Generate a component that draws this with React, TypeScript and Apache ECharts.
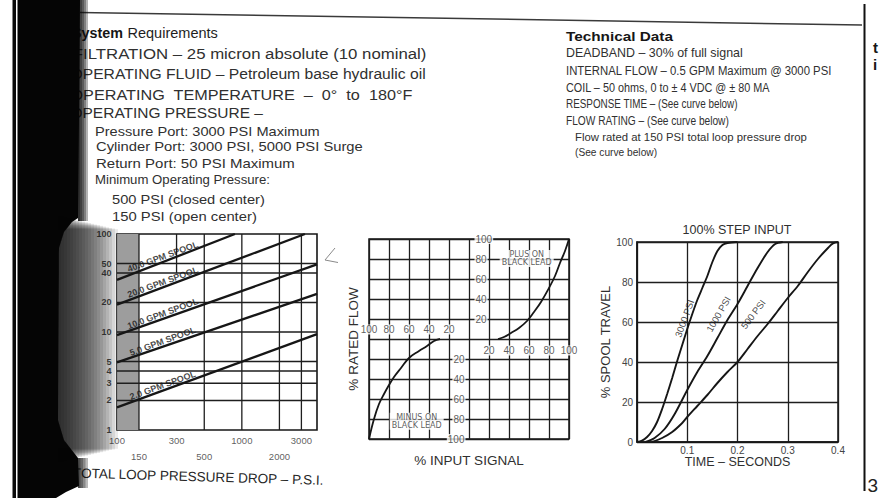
import React, { useEffect, useRef } from 'react';
import * as echarts from 'echarts';

const W = 882;
const H = 498;
const SANS = '"Liberation Sans", Arial, Helvetica, sans-serif';
const WIDE = '"DejaVu Sans", Verdana, sans-serif';
const INK = '#161616';
const TEXT = '#303030';
const RULE = '#1e1e1e';

// ---- Flow vs. total loop pressure drop (log-log); each spool is a straight line ----
const spoolNames = ['40.0 GPM SPOOL', '20.0 GPM SPOOL', '10.0 GPM SPOOL', '5.0 GPM SPOOL', '2.0 GPM SPOOL'];
const spool40 = [[100, 34], [880, 100]];
const spool20 = [[100, 19], [3200, 100]];
const spool10 = [[100, 9.3], [4000, 49]];
const spool5 = [[100, 4.9], [4000, 24.5]];
const spool2 = [[100, 1.7], [4000, 9.5]];
const pressureRange = [100, 4000];
const flowRange = [1, 100];
const pressureLabelsUpper = [100, 300, 1000, 3000];
const pressureLabelsLower = [150, 500, 2000];
const pressureGridLines = [150, 500, 1000, 2000, 3000];
const shortGridLine = [[300, 40], [300, 100]];
const flowLabels = [100, 50, 40, 20, 10, 5, 4, 3, 2, 1];
const flowGridLines = [2, 3, 4, 5, 10, 20, 40, 50];
const shadedBand = [100, 150];

// ---- % rated flow vs. % input signal ----
const plusOnBlack = [[29, 0], [35, 2], [42, 6], [50, 11], [58, 18], [65, 27], [72, 37], [80, 51], [86, 63], [91, 76], [96, 88], [100, 100]];
const minusOnBlack = [[-29, 0], [-35, -2], [-42, -7], [-50, -12], [-60, -19], [-68, -29], [-75, -38], [-80, -46], [-85, -55], [-90, -65], [-95, -80], [-100, -100]];
const signalLabels = [20, 40, 60, 80, 100];

// ---- 100% step input: spool travel vs. time ----
const travel3000 = [[0, 0], [0.01, 0.7], [0.02, 2.5], [0.03, 5.5], [0.04, 10], [0.05, 16.5], [0.06, 24], [0.07, 32], [0.08, 40.5], [0.09, 48.5], [0.1, 56.5], [0.11, 64], [0.12, 71], [0.13, 77], [0.14, 83], [0.15, 90], [0.16, 95.5], [0.17, 98.5], [0.18, 99.5], [0.2, 100]];
const travel1000 = [[0.017, 0], [0.035, 2], [0.055, 6.5], [0.075, 14], [0.1, 26], [0.12, 35], [0.14, 43], [0.16, 52], [0.18, 61], [0.2, 69], [0.22, 78], [0.24, 87], [0.26, 95], [0.275, 99], [0.29, 100]];
const travel500 = [[0.03, 0], [0.05, 2], [0.07, 5], [0.09, 9.5], [0.1, 12.5], [0.12, 18], [0.14, 23.5], [0.16, 29.5], [0.18, 35], [0.2, 40], [0.22, 46.5], [0.24, 53], [0.26, 59], [0.28, 65.5], [0.3, 72], [0.32, 78], [0.34, 85], [0.36, 91.5], [0.38, 97], [0.39, 99.3], [0.4, 100]];
const travelNames = ['3000 PSI', '1000 PSI', '500 PSI'];

function logInterp(pts: number[][], x: number) {
  const [x0, y0] = pts[0];
  const [x1, y1] = pts[1];
  const t = (Math.log(x) - Math.log(x0)) / (Math.log(x1) - Math.log(x0));
  return Math.exp(Math.log(y0) + t * (Math.log(y1) - Math.log(y0)));
}

let measureCtx: CanvasRenderingContext2D | null = null;
function measure(text: string, size: number, weight: string) {
  if (!measureCtx) measureCtx = document.createElement('canvas').getContext('2d');
  if (!measureCtx) return 0;
  measureCtx.font = `${weight} ${size}px "Liberation Sans"`;
  return measureCtx.measureText(text).width;
}

// text stretched or squeezed to the set width
function fitted(text: string, x: number, y: number, size: number, width: number, weight = 'normal', fill = TEXT, rotation = 0) {
  const w = measure(text, size, weight);
  return {
    type: 'text', x, y, rotation, scaleX: w > 0 ? width / w : 1, z: 10, silent: true,
    style: { text, fontSize: size, fontWeight: weight, fontFamily: SANS, fill, align: 'left', verticalAlign: 'middle' },
  };
}

// soft edge of the binding shadow: stacked translucent layers, all starting at x0,
// each reaching a little further right and a little less far up and down
function softEdge(x0: number, x1: number, yTop: number, yBot: number, alpha: number, steps: number, taper: number) {
  const out: any[] = [];
  const w = (x1 - x0) / steps;
  for (let i = 0; i < steps; i++) {
    out.push({
      type: 'rect', z: 50, silent: true,
      shape: { x: x0, y: yTop + taper * i, width: w * (i + 1), height: yBot - yTop - 2 * taper * i },
      style: { fill: `rgba(8,8,8,${alpha})` },
    });
  }
  return out;
}

function buildGraphic() {
  const body = [
    fitted('System', 72, 33, 14, 51, 'bold', INK),
    fitted('Requirements', 127.5, 33.5, 14, 90.5, 'normal', '#1e1e1e'),
    fitted('FILTRATION \u2013 25 micron absolute (10 nominal)', 72.8, 53.5, 14.5, 354),
    fitted('OPERATING FLUID \u2013 Petroleum base hydraulic oil', 70.5, 74, 14.5, 355.5),
    fitted('OPERATING\u00a0 TEMPERATURE\u00a0 \u2013\u00a0 0\u00b0\u00a0 to\u00a0 180\u00b0F', 70.5, 95, 14.5, 342.5),
    fitted('OPERATING PRESSURE \u2013', 70.5, 113, 14.5, 192.5),
    fitted('Pressure Port: 3000 PSI Maximum', 95, 131, 13, 225),
    fitted('Cylinder Port: 3000 PSI, 5000 PSI Surge', 96, 146.5, 13, 267),
    fitted('Return Port: 50 PSI Maximum', 96, 163, 13, 199),
    fitted('Minimum Operating Pressure:', 95, 180, 13, 175),
    fitted('500 PSI (closed center)', 112, 199, 13, 153),
    fitted('150 PSI (open center)', 112, 216.5, 13, 145),

    fitted('Technical Data', 566, 36.7, 13, 107, 'bold', INK),
    fitted('DEADBAND \u2013 30% of full signal', 566, 53.3, 12.5, 177),
    fitted('INTERNAL FLOW \u2013 0.5 GPM Maximum @ 3000 PSI', 566, 70.7, 12.5, 266),
    fitted('COIL \u2013 50 ohms, 0 to \u00b1 4 VDC @ \u00b1 80 MA', 566, 87.3, 12.5, 204),
    fitted('RESPONSE TIME \u2013 (See curve below)', 566, 104, 12.5, 172),
    fitted('FLOW RATING \u2013 (See curve below)', 566, 120.7, 12.5, 163),
    fitted('Flow rated at 150 PSI total loop pressure drop', 575, 136.7, 11.8, 232),
    fitted('(See curve below)', 575, 151.7, 11.8, 82),

    fitted('TOTAL LOOP PRESSURE DROP \u2013 P.S.I.', 73, 473, 13.5, 252, 'normal', '#262626', -0.03),
    {
      type: 'text', x: 737, y: 230, z: 10, silent: true,
      style: { text: '100% STEP INPUT', fontSize: 12.5, fontFamily: SANS, fill: TEXT, align: 'center', verticalAlign: 'middle' },
    },
    { type: 'text', x: 873, y: 47, z: 10, silent: true, style: { text: 't', fontSize: 15, fontWeight: 'bold', fontFamily: SANS, fill: INK, verticalAlign: 'middle' } },
    { type: 'text', x: 873, y: 64, z: 10, silent: true, style: { text: 'i', fontSize: 15, fontWeight: 'bold', fontFamily: SANS, fill: INK, verticalAlign: 'middle' } },
    { type: 'text', x: 867.5, y: 485, z: 10, silent: true, style: { text: '3', fontSize: 19, fontFamily: SANS, fill: '#222', verticalAlign: 'middle' } },
  ];

  const rules = [
    { type: 'line', z: 9, silent: true, shape: { x1: 80, y1: 12.5, x2: 862, y2: 25 }, style: { stroke: '#3a3a3a', lineWidth: 1.5 } },
    { type: 'line', z: 9, silent: true, shape: { x1: 864.5, y1: 4, x2: 864.5, y2: 491 }, style: { stroke: '#111', lineWidth: 2 } },
    { type: 'polyline', z: 9, silent: true, shape: { points: [[335, 248], [325, 260], [338, 262.5]] }, style: { stroke: '#8a8a8a', lineWidth: 1, fill: 'none' } },
  ];

  // dark binding shadow along the left edge of the page
  const shadow = [
    { type: 'rect', z: 50, silent: true, shape: { x: 12.5, y: 0, width: 3.5, height: H }, style: { fill: '#0b0b0b' } },
    {
      type: 'polygon', z: 50, silent: true,
      shape: { points: [[17.5, 0], [80, 0], [79, 120], [78, 218], [72, 222], [64, 232], [59, 248], [58, 420], [64, 440], [78, 458], [79, 486], [66, 492], [56, H], [17.5, H]] },
      style: { fill: '#050505' },
    },
    ...softEdge(78, 88, 0, 221, 0.3, 5, 0),
    ...softEdge(58, 118, 216, 462, 0.085, 20, 0.7),
    ...softEdge(78, 88, 458, 488, 0.28, 4, 0),
  ];

  return [...body, ...rules, ...shadow];
}

const hidden = { symbolSize: 1, itemStyle: { color: 'transparent' }, silent: true };

function buildOption() {
  const spoolData = [spool40, spool20, spool10, spool5, spool2];
  const spoolLabelAt = 240;
  const travelData = [travel3000, travel1000, travel500];
  const travelLabelAnchors = [[0.0944, 61.8, 70], [0.162, 63.9, 60], [0.231, 63.9, 53]];

  const tickLabel = { fontSize: 10, color: '#333', fontFamily: SANS, backgroundColor: '#fff', padding: [0, 1] };

  const series: any[] = [
    // shaded 100-150 PSI band
    {
      type: 'line', xAxisIndex: 0, yAxisIndex: 0, silent: true, symbol: 'none', z: 1,
      data: [[shadedBand[0], flowRange[1]], [shadedBand[1], flowRange[1]]],
      lineStyle: { width: 0 },
      areaStyle: { origin: 'start', opacity: 1, color: '#9d9d9d' },
    },
    ...flowGridLines.map((v) => ({
      type: 'line', xAxisIndex: 0, yAxisIndex: 0, silent: true, symbol: 'none', z: 2,
      data: [[pressureRange[0], v], [pressureRange[1], v]],
      lineStyle: { color: RULE, width: 1.3 },
    })),
    ...pressureGridLines.map((p) => ({
      type: 'line', xAxisIndex: 0, yAxisIndex: 0, silent: true, symbol: 'none', z: 2,
      data: [[p, flowRange[0]], [p, flowRange[1]]],
      lineStyle: { color: RULE, width: 1.3 },
    })),
    {
      type: 'line', xAxisIndex: 0, yAxisIndex: 0, silent: true, symbol: 'none', z: 2,
      data: shortGridLine, lineStyle: { color: RULE, width: 1.3 },
    },
    ...spoolData.map((pts, i) => ({
      name: spoolNames[i], type: 'line', xAxisIndex: 0, yAxisIndex: 0, symbol: 'none', z: 4,
      data: pts, lineStyle: { color: INK, width: 2.3 },
    })),
    ...spoolData.map((pts, i) => ({
      type: 'scatter', xAxisIndex: 0, yAxisIndex: 0, z: 6, ...hidden,
      data: [[spoolLabelAt, logInterp(pts, spoolLabelAt)]],
      label: { show: true, position: 'inside', rotate: 20, offset: [0, -5], formatter: spoolNames[i], fontSize: 9, fontWeight: 'bold', color: INK, fontFamily: SANS },
    })),
    {
      type: 'scatter', xAxisIndex: 0, yAxisIndex: 0, z: 6, ...hidden,
      data: flowLabels.map((v) => [pressureRange[0], v]),
      label: { show: true, position: 'left', distance: 5, fontSize: 9, fontWeight: 'bold', color: INK, fontFamily: SANS, formatter: (p: any) => String(p.value[1]) },
    },
    {
      type: 'scatter', xAxisIndex: 0, yAxisIndex: 0, z: 6, ...hidden,
      data: pressureLabelsUpper.map((p) => [p, flowRange[0]]),
      label: { show: true, position: 'bottom', distance: 5, fontSize: 9.5, color: '#333', fontFamily: SANS, formatter: (p: any) => String(p.value[0]) },
    },
    {
      type: 'scatter', xAxisIndex: 0, yAxisIndex: 0, z: 6, ...hidden,
      data: pressureLabelsLower.map((p) => [p, flowRange[0]]),
      label: { show: true, position: 'bottom', distance: 21, fontSize: 9.5, color: '#333', fontFamily: SANS, formatter: (p: any) => String(p.value[0]) },
    },

    // four-quadrant flow gain chart
    {
      name: 'PLUS ON BLACK LEAD', type: 'line', xAxisIndex: 1, yAxisIndex: 1, symbol: 'none', smooth: 0.4, z: 4,
      data: plusOnBlack, lineStyle: { color: INK, width: 1.8 },
    },
    {
      name: 'MINUS ON BLACK LEAD', type: 'line', xAxisIndex: 1, yAxisIndex: 1, symbol: 'none', smooth: 0.4, z: 4,
      data: minusOnBlack, lineStyle: { color: INK, width: 1.8 },
    },
    {
      type: 'scatter', xAxisIndex: 1, yAxisIndex: 1, z: 6, ...hidden,
      data: signalLabels.map((v) => [-v, 0]),
      label: { show: true, position: 'top', distance: 4, ...tickLabel, formatter: (p: any) => String(-p.value[0]) },
    },
    {
      type: 'scatter', xAxisIndex: 1, yAxisIndex: 1, z: 6, ...hidden,
      data: signalLabels.map((v) => [v, 0]),
      label: { show: true, position: 'bottom', distance: 6, ...tickLabel, formatter: (p: any) => String(p.value[0]) },
    },
    {
      type: 'scatter', xAxisIndex: 1, yAxisIndex: 1, z: 6, ...hidden,
      data: signalLabels.map((v) => [0, v]),
      label: { show: true, position: 'right', distance: 5, ...tickLabel, formatter: (p: any) => String(p.value[1]) },
    },
    {
      type: 'scatter', xAxisIndex: 1, yAxisIndex: 1, z: 6, ...hidden,
      data: signalLabels.map((v) => [0, -v]),
      label: { show: true, position: 'left', distance: 3, ...tickLabel, formatter: (p: any) => String(-p.value[1]) },
    },
    {
      type: 'scatter', xAxisIndex: 1, yAxisIndex: 1, z: 6, ...hidden,
      data: [[57.7, 80.6]],
      label: { show: true, position: 'inside', formatter: 'PLUS ON\nBLACK LEAD', fontSize: 8, lineHeight: 7.5, color: '#333', fontFamily: WIDE, backgroundColor: '#fff', padding: [1, 2] },
    },
    {
      type: 'scatter', xAxisIndex: 1, yAxisIndex: 1, z: 6, ...hidden,
      data: [[-52.3, -82.3]],
      label: { show: true, position: 'inside', formatter: 'MINUS ON\nBLACK LEAD', fontSize: 8, lineHeight: 7.5, color: '#333', fontFamily: WIDE, backgroundColor: '#fff', padding: [1, 2] },
    },

    // step response
    ...travelData.map((pts, i) => ({
      name: travelNames[i], type: 'line', xAxisIndex: 2, yAxisIndex: 2, symbol: 'none', smooth: 0.3, z: 4,
      data: pts, lineStyle: { color: INK, width: 1.9 },
    })),
    ...travelLabelAnchors.map(([t, v, angle], i) => ({
      type: 'scatter', xAxisIndex: 2, yAxisIndex: 2, z: 6, ...hidden,
      data: [[t, v]],
      label: { show: true, position: 'inside', rotate: angle, formatter: travelNames[i], fontSize: 9.5, color: INK, fontFamily: SANS },
    })),
  ];

  const quadSplit = { show: true, lineStyle: { color: RULE, width: 1.3 } };

  return {
    animation: false,
    backgroundColor: '#fff',
    grid: [
      { left: 117, top: 234, width: 200, height: 196, show: true, borderColor: INK, borderWidth: 1.6, backgroundColor: 'transparent' },
      { left: 369, top: 239, width: 200, height: 200, show: true, borderColor: INK, borderWidth: 1.5, backgroundColor: 'transparent' },
      { left: 637, top: 242, width: 201, height: 200, show: true, borderColor: INK, borderWidth: 1.5, backgroundColor: 'transparent' },
    ],
    xAxis: [
      { gridIndex: 0, type: 'log', logBase: 10, min: pressureRange[0], max: pressureRange[1], show: false },
      {
        gridIndex: 1, type: 'value', min: -100, max: 100, interval: 20,
        name: '% INPUT SIGNAL', nameLocation: 'middle', nameGap: 14,
        nameTextStyle: { fontSize: 13.5, color: TEXT, fontFamily: SANS },
        axisLine: { show: false, onZero: false }, axisTick: { show: false }, axisLabel: { show: false },
        splitLine: quadSplit,
      },
      {
        gridIndex: 2, type: 'value', min: 0, max: 0.4, interval: 0.1,
        name: 'TIME \u2013 SECONDS', nameLocation: 'middle', nameGap: 13,
        nameTextStyle: { fontSize: 12.5, color: TEXT, fontFamily: SANS },
        axisLine: { show: true, onZero: false, lineStyle: { color: INK, width: 1.5 } }, axisTick: { show: false },
        axisLabel: { fontSize: 10, color: '#444', margin: 3, fontFamily: SANS, formatter: (v: number) => (v === 0 ? '' : v.toFixed(1)) },
        splitLine: quadSplit,
      },
    ],
    yAxis: [
      { gridIndex: 0, type: 'log', logBase: 10, min: flowRange[0], max: flowRange[1], show: false },
      {
        gridIndex: 1, type: 'value', min: -100, max: 100, interval: 20,
        name: '% RATED FLOW', nameLocation: 'middle', nameGap: 9,
        nameTextStyle: { fontSize: 13.5, color: TEXT, fontFamily: SANS },
        axisLine: { show: false, onZero: false }, axisTick: { show: false }, axisLabel: { show: false },
        splitLine: quadSplit,
      },
      {
        gridIndex: 2, type: 'value', min: 0, max: 100, interval: 20,
        name: '% SPOOL TRAVEL', nameLocation: 'middle', nameGap: 17,
        nameTextStyle: { fontSize: 13, color: TEXT, fontFamily: SANS },
        axisLine: { show: true, onZero: false, lineStyle: { color: INK, width: 1.5 } }, axisTick: { show: false },
        axisLabel: { fontSize: 10, color: '#444', margin: 4, fontFamily: SANS, padding: [4, 0, 0, 0] },
        splitLine: quadSplit,
      },
    ],
    series,
    graphic: buildGraphic(),
  };
}

export default function App() {
  const ref = useRef<HTMLDivElement>(null);
  useEffect(() => {
    if (!ref.current) return;
    const chart = echarts.init(ref.current, undefined, { renderer: 'svg', width: W, height: H });
    chart.setOption(buildOption() as any);
    return () => chart.dispose();
  }, []);
  return <div ref={ref} style={{ position: 'fixed', left: 0, top: 0, width: W, height: H, background: '#fff' }} />;
}
